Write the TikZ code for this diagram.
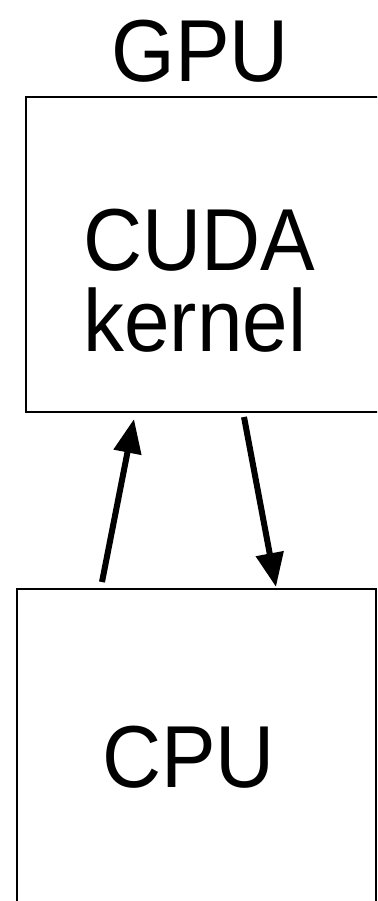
\documentclass[tikz,border=0pt]{standalone}
\usepackage{fontspec}
\setmainfont{Liberation Sans}
\usetikzlibrary{arrows.meta}
\begin{document}
\begin{tikzpicture}[x=1pt,y=1pt,
  box/.style={draw=black,line width=2.5pt,rectangle,inner sep=0pt},
  label/.style={font=\fontsize{88}{81}\selectfont,inner sep=0pt,anchor=base},
  flow/.style={line width=6pt,-{Triangle[length=34pt,width=27pt]}}]
\useasboundingbox (0,0) rectangle (377,-901);
\clip (0,0) rectangle (377,-901);
\node[box,minimum width=394pt,minimum height=315pt] (gpu) at (223,-254.5) {};
\node[box,minimum width=359pt,minimum height=360pt] (cpu) at (196.5,-769) {};
\node[label] (gputitle) at (200,-82) {\scalebox{0.93}[1]{GPU}};
\node[label] (cuda) at (199,-270) {\scalebox{0.93}[1]{CUDA}};
\node[label] (kernel) at (195,-351) {\scalebox{0.93}[1]{kernel}};
\node[label] (cputext) at (188.5,-787) {\scalebox{0.93}[1]{CPU}};
\coordinate (upstart) at (102,-582);
\coordinate (upend) at (134,-419);
\coordinate (downstart) at (244,-417);
\coordinate (downend) at (276,-587);
\draw[flow] (upstart) -- (upend);
\draw[flow] (downstart) -- (downend);
\end{tikzpicture}
\end{document}
